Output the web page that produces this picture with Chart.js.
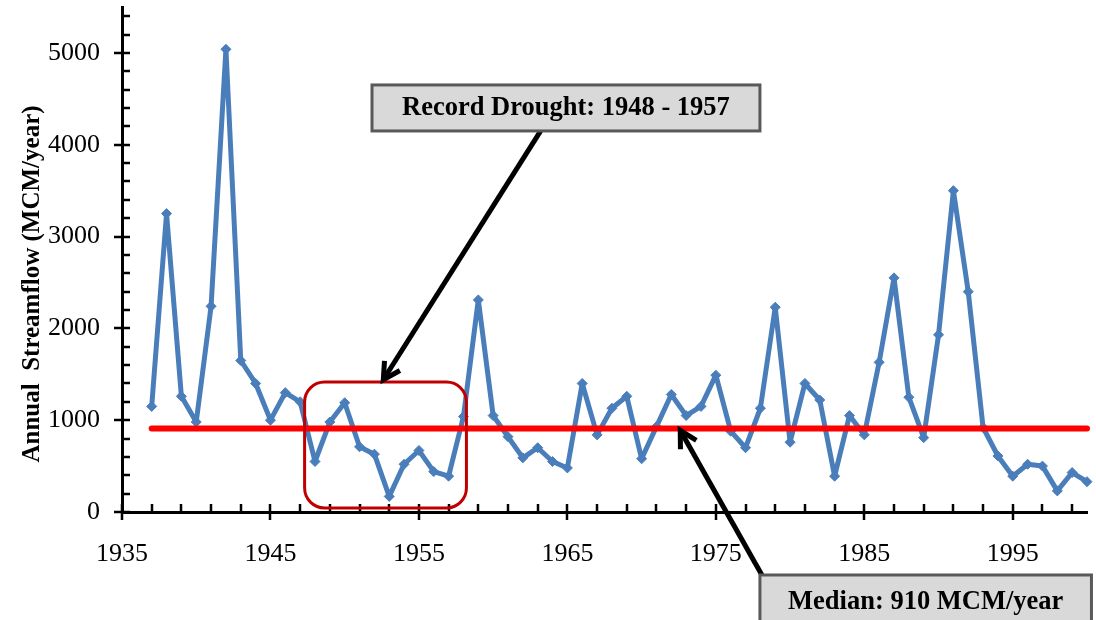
<!DOCTYPE html>
<html>
<head>
<meta charset="utf-8">
<script src="https://cdn.jsdelivr.net/npm/chart.js@4.4.1/dist/chart.umd.min.js"></script>
<style>
  html, body { margin: 0; padding: 0; background: #fff; }
  #wrap { width: 1096px; height: 620px; }
</style>
</head>
<body>
<div id="wrap"><canvas id="chart" width="1096" height="620"></canvas></div>
<script>
// data
const years = [1937, 1938, 1939, 1940, 1941, 1942, 1943, 1944, 1945, 1946,
  1947, 1948, 1949, 1950, 1951, 1952, 1953, 1954, 1955, 1956,
  1957, 1958, 1959, 1960, 1961, 1962, 1963, 1964, 1965, 1966,
  1967, 1968, 1969, 1970, 1971, 1972, 1973, 1974, 1975, 1976,
  1977, 1978, 1979, 1980, 1981, 1982, 1983, 1984, 1985, 1986,
  1987, 1988, 1989, 1990, 1991, 1992, 1993, 1994, 1995, 1996,
  1997, 1998, 1999, 2000];
const streamflow = [1150, 3250, 1260, 980, 2240, 5040, 1650, 1400, 1000, 1300,
  1200, 550, 980, 1190, 710, 630, 170, 520, 670, 440,
  390, 1040, 2310, 1050, 820, 590, 700, 550, 480, 1400,
  840, 1130, 1260, 580, 930, 1280, 1050, 1150, 1490, 880,
  700, 1130, 2230, 760, 1400, 1220, 390, 1050, 840, 1630,
  2550, 1250, 810, 1930, 3500, 2400, 920, 610, 390, 520,
  500, 230, 430, 330];
const medianFlow = 910;

const xTickYears = [1935, 1945, 1955, 1965, 1975, 1985, 1995];
const yTickValues = [0, 1000, 2000, 3000, 4000, 5000];
const yTitle = 'Annual  Streamflow (MCM/year)';
const droughtLabel = 'Record Drought: 1948 - 1957';
const medianLabel = 'Median: 910 MCM/year';

const serif = '"Liberation Serif", "Times New Roman", serif';

// annotation plugin - ticks, axis title, drought box, callouts
const decorPlugin = {
  id: 'decor',
  afterDatasetsDraw(chart) {
    const ctx = chart.ctx;
    const xs = chart.scales.x;
    const ys = chart.scales.y;
    const px = v => xs.getPixelForValue(v);
    const py = v => ys.getPixelForValue(v);
    const x0 = xs.left;
    const y0 = ys.bottom;

    ctx.save();
    ctx.strokeStyle = '#000';
    ctx.lineWidth = 2.5;
    ctx.beginPath();
    // y ticks: major cross the axis, minor inside
    for (let v = 0; v <= 5500; v += 200) {
      const y = Math.round(py(v));
      if (v % 1000 === 0) { ctx.moveTo(x0 - 8, y); ctx.lineTo(x0 + 8, y); }
      else { ctx.moveTo(x0, y); ctx.lineTo(x0 + 8, y); }
    }
    // x ticks
    for (let v = 1935; v <= 2000; v += 2) {
      const x = Math.round(px(v));
      ctx.moveTo(x, y0); ctx.lineTo(x, y0 - 8);
    }
    xTickYears.forEach(v => {
      const x = Math.round(px(v));
      ctx.moveTo(x, y0 - 8); ctx.lineTo(x, y0 + 8);
    });
    ctx.stroke();

    // y axis title
    ctx.save();
    ctx.translate(33, 284);
    ctx.rotate(-Math.PI / 2);
    ctx.font = 'bold 25px ' + serif;
    ctx.fillStyle = '#000';
    ctx.textAlign = 'center';
    ctx.textBaseline = 'middle';
    ctx.fillText(yTitle, 0, 0);
    ctx.restore();

    // drought period box
    const rl = px(1947.3), rr = px(1958.2), rt = py(1416), rb = py(44);
    ctx.strokeStyle = '#c00000';
    ctx.lineWidth = 3;
    ctx.beginPath();
    ctx.roundRect(rl, rt, rr - rl, rb - rt, 20);
    ctx.stroke();

    // arrows
    function arrow(x1, y1, x2, y2) {
      const a = Math.atan2(y2 - y1, x2 - x1);
      ctx.strokeStyle = '#000';
      ctx.lineWidth = 5;
      ctx.lineCap = 'butt';
      ctx.beginPath();
      ctx.moveTo(x1, y1);
      ctx.lineTo(x2, y2);
      ctx.stroke();
      ctx.beginPath();
      ctx.moveTo(x2 - 19 * Math.cos(a - 0.5), y2 - 19 * Math.sin(a - 0.5));
      ctx.lineTo(x2, y2);
      ctx.lineTo(x2 - 19 * Math.cos(a + 0.5), y2 - 19 * Math.sin(a + 0.5));
      ctx.stroke();
    }
    arrow(px(1963.2), py(4150), px(1952.6), py(1440));
    arrow(px(1978.1), py(-686), px(1972.6), py(890));

    // callout boxes
    function callout(l, t, r, b, text, ty) {
      ctx.fillStyle = '#d9d9d9';
      ctx.fillRect(l, t, r - l, b - t);
      ctx.strokeStyle = '#595959';
      ctx.lineWidth = 3;
      ctx.strokeRect(l, t, r - l, b - t);
      ctx.fillStyle = '#000';
      ctx.font = 'bold 26.5px ' + serif;
      ctx.textAlign = 'center';
      ctx.textBaseline = 'middle';
      ctx.fillText(text, (l + r) / 2, ty);
    }
    callout(px(1951.84), py(4651), px(1977.97), py(4150), droughtLabel, py(4400));
    callout(px(1977.97), py(-686), px(2000.3), py(-1500), medianLabel, py(-980));
    ctx.restore();
  }
};

const ctx = document.getElementById('chart').getContext('2d');
const chart = new Chart(ctx, {
  type: 'line',
  data: {
    datasets: [
      {
        label: 'Median',
        data: [{ x: years[0], y: medianFlow }, { x: years[years.length - 1], y: medianFlow }],
        borderColor: '#ff0000',
        borderWidth: 6,
        borderCapStyle: 'round',
        pointRadius: 0,
        clip: false,
        order: 0
      },
      {
        label: 'Annual Streamflow',
        data: years.map((yr, i) => ({ x: yr, y: streamflow[i] })),
        borderColor: '#4a7ebb',
        backgroundColor: '#4a7ebb',
        borderWidth: 5,
        borderJoinStyle: 'round',
        pointStyle: 'rectRot',
        pointRadius: 5,
        pointBorderWidth: 1,
        tension: 0,
        clip: false,
        order: 1
      }
    ]
  },
  options: {
    responsive: false,
    animation: false,
    devicePixelRatio: 1,
    layout: { padding: { left: 0, right: 9, top: 7, bottom: 0 } },
    plugins: {
      legend: { display: false },
      tooltip: { enabled: false }
    },
    scales: {
      x: {
        type: 'linear',
        min: 1935,
        max: 2000,
        afterBuildTicks: scale => { scale.ticks = xTickYears.map(v => ({ value: v })); },
        afterFit: scale => {
          scale.height = 108;
          scale.paddingLeft = 0;
          scale.paddingRight = 0;
        },
        grid: { display: false },
        border: { display: true, color: '#000', width: 3 },
        ticks: {
          color: '#000',
          font: { family: serif, size: 26 },
          padding: 19,
          maxRotation: 0,
          callback: v => String(v)
        }
      },
      y: {
        min: 0,
        max: 5500,
        afterBuildTicks: scale => { scale.ticks = yTickValues.map(v => ({ value: v })); },
        afterFit: scale => {
          scale.width = 122;
          scale.paddingTop = 0;
          scale.paddingBottom = 0;
        },
        grid: { display: false },
        border: { display: true, color: '#000', width: 3 },
        ticks: {
          color: '#000',
          font: { family: serif, size: 26 },
          padding: 14,
          callback: v => String(v)
        }
      }
    }
  },
  plugins: [decorPlugin]
});
</script>
</body>
</html>
